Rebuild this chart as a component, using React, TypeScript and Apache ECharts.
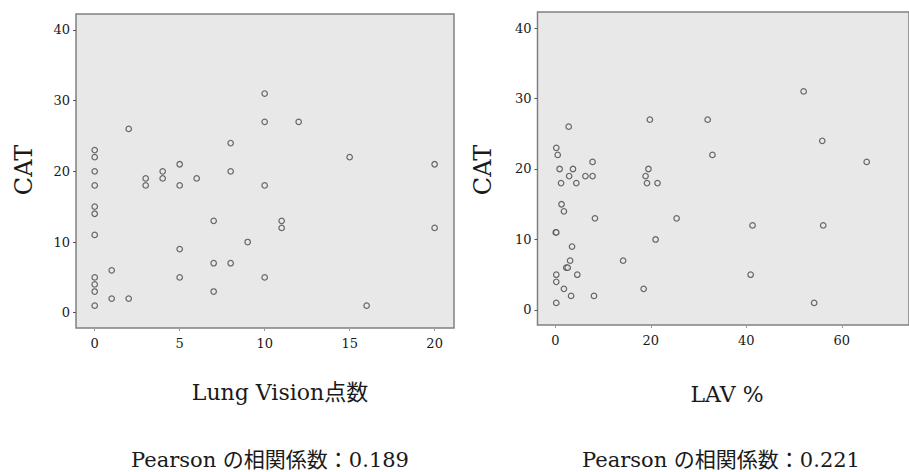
import React, { useEffect, useRef } from "react";
import * as echarts from "echarts";

// Left panel: Lung Vision score vs CAT
const lungVisionScore = [
  0, 0, 0, 0, 0, 0, 0, 0, 0, 0, 0,
  1, 1, 2, 2, 3, 3, 4, 4,
  5, 5, 5, 5, 6, 7, 7, 7, 8, 8, 8, 9,
  10, 10, 10, 10, 11, 11, 12, 15, 16, 20, 20,
];
const catLeft = [
  23, 22, 20, 18, 15, 14, 11, 5, 4, 3, 1,
  6, 2, 26, 2, 19, 18, 20, 19,
  21, 18, 9, 5, 19, 13, 7, 3, 24, 20, 7, 10,
  31, 27, 18, 5, 13, 12, 27, 22, 1, 21, 12,
];

// Right panel: LAV % vs CAT
const lavPercent = [
  0.2, 0.5, 0.9, 1.2, 1.3, 1.8, 0.1, 0.2, 2.8, 2.9, 3.7, 4.4, 6.3, 7.8, 7.8,
  8.3, 3.5, 3.1, 2.3, 2.6, 4.6, 0.2, 0.2, 1.8, 3.3, 0.2, 8.1, 14.2, 18.5,
  18.9, 19.5, 19.2, 21.4, 19.8, 21.0, 25.4, 31.9, 32.9, 41.3, 40.9, 52.0,
  55.9, 56.1, 54.2, 65.2,
];
const catRight = [
  23, 22, 20, 18, 15, 14, 11, 11, 26, 19, 20, 18, 19, 21, 19,
  13, 9, 7, 6, 6, 5, 5, 4, 3, 2, 1, 2, 7, 3,
  19, 20, 18, 18, 27, 10, 13, 27, 22, 12, 5, 31,
  24, 12, 1, 21,
];

const yTicks = [0, 10, 20, 30, 40];
const xTicksLeft = [0, 5, 10, 15, 20];
const xTicksRight = [0, 20, 40, 60];

const yAxisTitle = "CAT";
const xTitleLeft = "Lung Vision点数";
const xTitleRight = "LAV %";
const pearsonLeft = "Pearson の相関係数：0.189";
const pearsonRight = "Pearson の相関係数：0.221";

const SERIF = '"DejaVu Serif", "Noto Sans CJK JP", serif';
const BG = "#e8e8e8";

export default function App() {
  const ref = useRef<HTMLDivElement>(null);

  useEffect(() => {
    if (!ref.current) return;
    const chart = echarts.init(ref.current, null, { renderer: "svg" });

    const axisLabelStyle = {
      color: "#1a1a1a",
      fontFamily: SERIF,
      fontSize: 13,
    };

    const xAxisCommon = (min: number, max: number, ticks: number[], gridIndex: number) => ({
      type: "value",
      gridIndex,
      min,
      max,
      splitLine: { show: false },
      axisLine: { show: false, onZero: false },
      axisTick: {
        show: true,
        customValues: ticks,
        length: 3,
        lineStyle: { color: "#9a9a9a", width: 1 },
      },
      axisLabel: {
        ...axisLabelStyle,
        customValues: ticks,
        margin: 9,
      },
    });

    const yAxisCommon = (min: number, max: number, gridIndex: number) => ({
      type: "value",
      gridIndex,
      min,
      max,
      splitLine: { show: false },
      axisLine: { show: false, onZero: false },
      axisTick: {
        show: true,
        customValues: yTicks,
        length: 3,
        lineStyle: { color: "#555", width: 1 },
      },
      axisLabel: {
        ...axisLabelStyle,
        customValues: yTicks,
        margin: 6,
      },
    });

    const pointStyle = {
      color: BG,
      borderColor: "#444",
      borderWidth: 1.2,
    };

    const textEl = (text: string, x: number, y: number, size: number, rotation = 0) => ({
      type: "text",
      x,
      y,
      rotation,
      style: {
        text,
        fill: "#1a1a1a",
        font: `${size}px ${SERIF}`,
        textAlign: "center",
        textVerticalAlign: "middle",
      },
    });

    chart.setOption({
      animation: false,
      backgroundColor: "#fff",
      grid: [
        {
          left: 76,
          top: 14,
          width: 378,
          height: 314,
          show: true,
          backgroundColor: BG,
          borderColor: "#808080",
          borderWidth: 1.5,
        },
        {
          left: 537.5,
          top: 12,
          width: 380,
          height: 313,
          show: true,
          backgroundColor: BG,
          borderColor: "#808080",
          borderWidth: 1.5,
        },
      ],
      xAxis: [
        xAxisCommon(-1.1, 21.14, xTicksLeft, 0),
        xAxisCommon(-3.73, 74.06, xTicksRight, 1),
      ],
      yAxis: [yAxisCommon(-2.16, 42.25, 0), yAxisCommon(-2.13, 42.27, 1)],
      series: [
        {
          type: "scatter",
          xAxisIndex: 0,
          yAxisIndex: 0,
          symbol: "circle",
          symbolSize: 5.5,
          itemStyle: pointStyle,
          data: lungVisionScore.map((x, i) => [x, catLeft[i]]),
        },
        {
          type: "scatter",
          xAxisIndex: 1,
          yAxisIndex: 1,
          symbol: "circle",
          symbolSize: 5.5,
          itemStyle: pointStyle,
          data: lavPercent.map((x, i) => [x, catRight[i]]),
        },
      ],
      graphic: [
        textEl(yAxisTitle, 24, 170, 24, Math.PI / 2),
        textEl(yAxisTitle, 483, 170, 24, Math.PI / 2),
        textEl(xTitleLeft, 280, 392, 22),
        textEl(xTitleRight, 727, 394, 22),
        textEl(pearsonLeft, 270, 460, 21),
        textEl(pearsonRight, 721, 460, 21),
      ],
    });

    return () => chart.dispose();
  }, []);

  return (
    <div
      ref={ref}
      style={{ position: "fixed", left: 0, top: 0, width: 909, height: 472 }}
    />
  );
}
